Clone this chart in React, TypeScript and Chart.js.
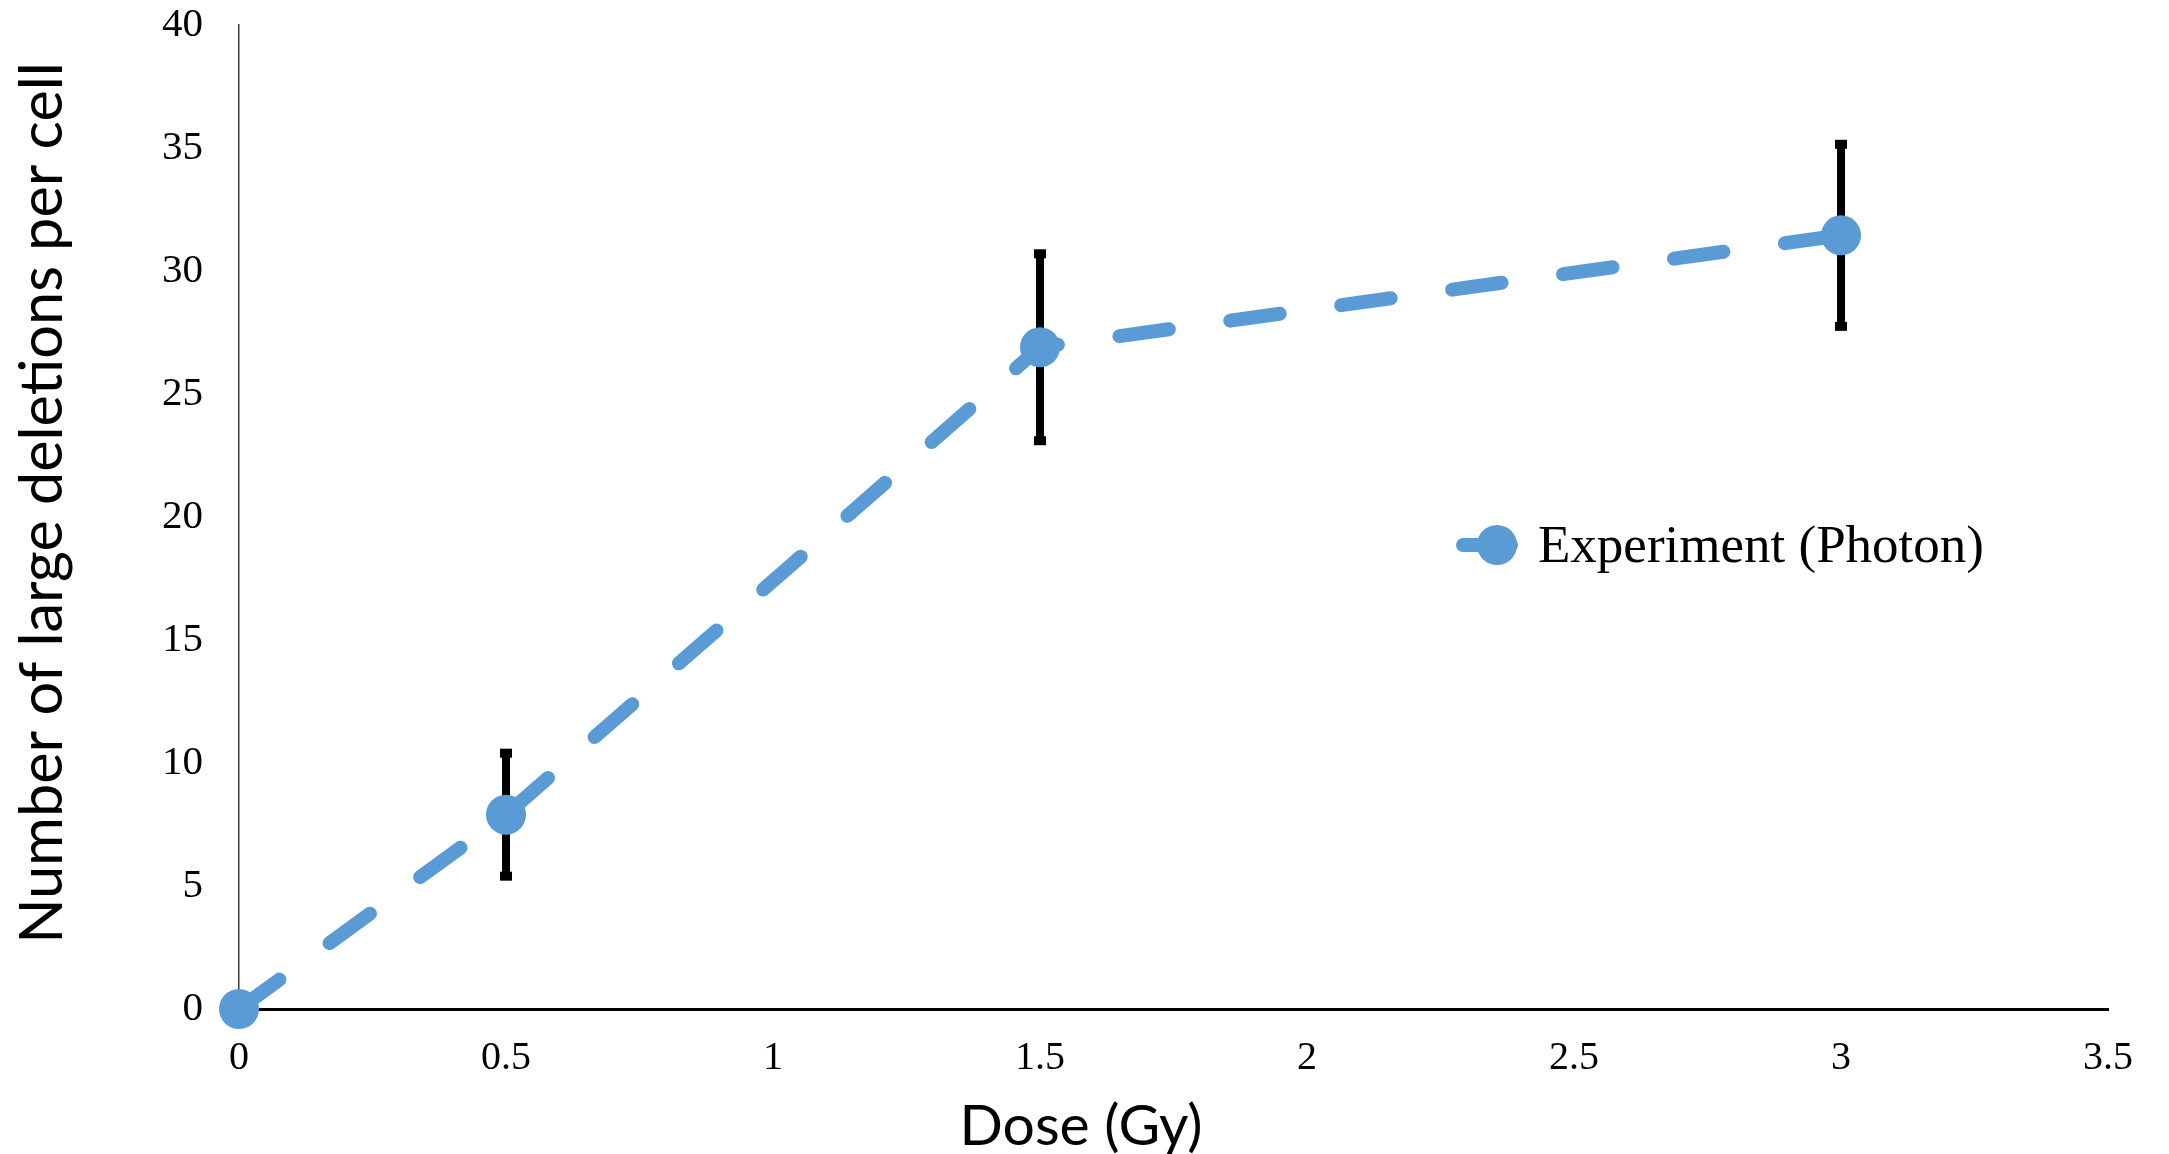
import React, { useEffect, useRef } from "react";
import { Chart, registerables } from "chart.js";

Chart.register(...registerables);

// ---- data ----
const doses = [0, 0.5, 1.5, 3];
const deletions = [0, 7.9, 26.9, 31.45];
const errors = [0, 2.5, 3.8, 3.7];
const seriesLabel = "Experiment (Photon)";
const xTitle = "Dose (Gy)";
const yTitle = "Number of large deletions per cell";
const xTicks = [0, 0.5, 1, 1.5, 2, 2.5, 3, 3.5];
const yTicks = [0, 5, 10, 15, 20, 25, 30, 35, 40];

const W = 2169;
const H = 1154;
const BLUE = "#5B9BD5";
const SERIF = "'Liberation Serif', 'Times New Roman', serif";
const SANS = "Lato, 'Open Sans', sans-serif";

const errorBarPlugin = {
  id: "errorBars",
  beforeDatasetsDraw(chart: any) {
    const { ctx } = chart;
    const xs = chart.scales.x;
    const ys = chart.scales.y;
    ctx.save();
    ctx.fillStyle = "#000";
    for (let i = 0; i < doses.length; i++) {
      if (!errors[i]) continue;
      const px = xs.getPixelForValue(doses[i]);
      const top = ys.getPixelForValue(deletions[i] + errors[i]);
      const bot = ys.getPixelForValue(deletions[i] - errors[i]);
      ctx.fillRect(px - 4, top, 8, bot - top);
      ctx.fillRect(px - 6, top - 4.5, 12, 9);
      ctx.fillRect(px - 6, bot - 4.5, 12, 9);
    }
    ctx.restore();
  },
};

const fitFont = (ctx: CanvasRenderingContext2D, text: string, family: string, target: number) => {
  ctx.font = `100px ${family}`;
  const w = ctx.measureText(text).width;
  return (100 * target) / w;
};

const decorPlugin = {
  id: "decor",
  afterDraw(chart: any) {
    const { ctx } = chart;
    ctx.save();
    ctx.fillStyle = "#000";
    // X axis title
    const xs = fitFont(ctx, xTitle, SANS, 243);
    ctx.font = `${xs}px ${SANS}`;
    ctx.textAlign = "center";
    ctx.textBaseline = "alphabetic";
    ctx.fillText(xTitle, 1081, 1145);
    // Y axis title
    const ysz = fitFont(ctx, yTitle, SANS, 882);
    ctx.font = `${ysz}px ${SANS}`;
    ctx.translate(62, 503);
    ctx.rotate(-Math.PI / 2);
    ctx.textAlign = "center";
    ctx.textBaseline = "alphabetic";
    ctx.fillText(yTitle, 0, 0);
    ctx.restore();

    // Legend
    ctx.save();
    ctx.strokeStyle = BLUE;
    ctx.lineWidth = 14;
    ctx.lineCap = "round";
    ctx.beginPath();
    ctx.moveTo(1463, 545);
    ctx.lineTo(1511, 545);
    ctx.stroke();
    ctx.fillStyle = BLUE;
    ctx.beginPath();
    ctx.arc(1497, 545, 20, 0, Math.PI * 2);
    ctx.fill();
    ctx.fillStyle = "#000";
    ctx.font = `53px ${SERIF}`;
    ctx.textAlign = "left";
    ctx.textBaseline = "alphabetic";
    ctx.fillText(seriesLabel, 1538, 562);
    ctx.restore();
  },
};

export default function App() {
  const ref = useRef<HTMLCanvasElement | null>(null);

  useEffect(() => {
    if (!ref.current) return;
    const chart = new Chart(ref.current, {
      type: "line",
      data: {
        datasets: [
          {
            label: seriesLabel,
            data: doses.map((d, i) => ({ x: d, y: deletions[i] })),
            borderColor: BLUE,
            backgroundColor: BLUE,
            borderWidth: 14,
            borderDash: [50, 62],
            borderCapStyle: "round",
            borderJoinStyle: "round",
            pointRadius: 20,
            pointHoverRadius: 20,
            pointBackgroundColor: BLUE,
            pointBorderWidth: 0,
            tension: 0,
            fill: false,
            clip: false,
          } as any,
        ],
      },
      options: {
        animation: false,
        responsive: false,
        devicePixelRatio: 1,
        layout: { padding: { top: 25, right: 61, left: 0, bottom: 0 } },
        plugins: { legend: { display: false }, tooltip: { enabled: false } },
        scales: {
          x: {
            type: "linear",
            position: "bottom",
            min: 0,
            max: 3.5,
            afterBuildTicks: (s: any) => {
              s.ticks = xTicks.map((v) => ({ value: v }));
            },
            afterFit: (s: any) => {
              s.height = 145;
              s.paddingLeft = 0;
              s.paddingRight = 0;
            },
            grid: { display: false, drawTicks: false },
            border: { display: true, color: "#000", width: 3 },
            ticks: {
              padding: 25,
              color: "#000",
              font: { family: SERIF, size: 40 },
              maxRotation: 0,
              autoSkip: false,
              callback: (v: any) => String(v),
            },
          },
          y: {
            type: "linear",
            min: 0,
            max: 40,
            afterBuildTicks: (s: any) => {
              s.ticks = yTicks.map((v) => ({ value: v }));
            },
            afterFit: (s: any) => {
              s.width = 239;
              s.paddingTop = 0;
              s.paddingBottom = 0;
            },
            grid: { display: false, drawTicks: false },
            border: { display: true, color: "#3a3a3a", width: 1.5 },
            ticks: {
              padding: 36,
              color: "#000",
              font: { family: SERIF, size: 41 },
              autoSkip: false,
              callback: (v: any) => String(v),
            },
          },
        },
      },
      plugins: [errorBarPlugin, decorPlugin],
    });
    return () => chart.destroy();
  }, []);

  return (
    <div style={{ position: "fixed", left: 0, top: 0, width: W, height: H, background: "#fff" }}>
      <canvas ref={ref} width={W} height={H} style={{ display: "block", width: W, height: H }} />
    </div>
  );
}
